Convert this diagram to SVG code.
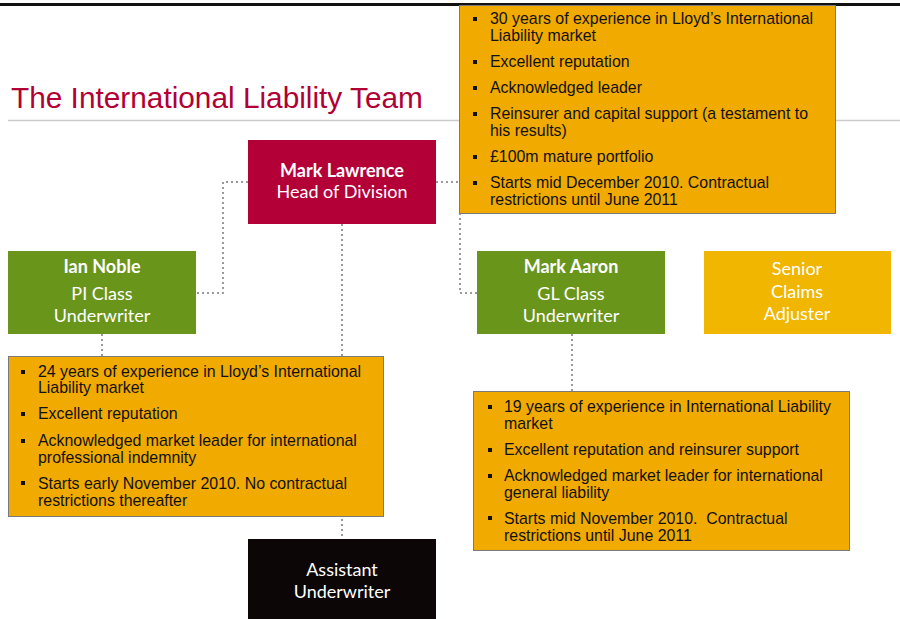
<svg xmlns="http://www.w3.org/2000/svg" width="900" height="619" viewBox="0 0 900 619">
  <style>
    .title { font-family: "Liberation Sans", Arial, sans-serif; font-size: 29.8px; fill: #B10034; }
    .node-text { font-family: Lato, "Open Sans", sans-serif; font-size: 18px; fill: #ffffff; text-anchor: middle; }
    .node-name { font-weight: bold; }
    .bullet-text { font-family: "Liberation Sans", Arial, sans-serif; font-size: 15.9px; fill: #111111; white-space: pre; }
    .note { fill: #F0AA00; stroke: #7a7a7a; stroke-width: 1; }
    .dot { fill: #111111; }
    .link { fill: none; stroke: #9a9a9a; stroke-width: 2; stroke-dasharray: 2 3; }
  </style>

  <rect width="900" height="619" fill="#ffffff"/>

  <!-- header rule and title -->
  <rect x="0" y="3" width="900" height="3" fill="#111111"/>
  <line x1="8" y1="120.5" x2="900" y2="120.5" stroke="#cccccc" stroke-width="1.5"/>
  <text class="title" x="11" y="108">The International Liability Team</text>

  <!-- reporting lines -->
  <g id="connectors">
    <polyline class="link" points="248,182 223,182 223,293 196,293"/>
    <polyline class="link" points="436,182 460,182 460,293 477,293"/>
    <line class="link" x1="342" y1="224" x2="342" y2="539"/>
    <line class="link" x1="102" y1="334" x2="102" y2="356"/>
    <line class="link" x1="572" y1="334" x2="572" y2="391"/>
  </g>

  <g id="mark-lawrence">
    <rect x="248" y="140" width="188" height="84" fill="#B30037"/>
    <text class="node-text node-name" x="342" y="177">Mark Lawrence</text>
    <text class="node-text" x="342" y="198">Head of Division</text>
  </g>

  <g id="ian-noble">
    <rect x="8" y="251" width="188" height="83" fill="#6A951B"/>
    <text class="node-text node-name" x="102" y="273">Ian Noble</text>
    <text class="node-text" x="102" y="300">PI Class</text>
    <text class="node-text" x="102" y="322">Underwriter</text>
  </g>

  <g id="mark-aaron">
    <rect x="477" y="251" width="188" height="83" fill="#6A951B"/>
    <text class="node-text node-name" x="571" y="273">Mark Aaron</text>
    <text class="node-text" x="571" y="300">GL Class</text>
    <text class="node-text" x="571" y="322">Underwriter</text>
  </g>

  <g id="senior-claims-adjuster">
    <rect x="704" y="251" width="187" height="83" fill="#F0B600"/>
    <text class="node-text" x="797" y="275" fill="#fdf6e0">Senior</text>
    <text class="node-text" x="797" y="298">Claims</text>
    <text class="node-text" x="797" y="320">Adjuster</text>
  </g>

  <g id="assistant-underwriter">
    <rect x="248" y="539" width="188" height="80" fill="#0C0607"/>
    <text class="node-text" x="342" y="576">Assistant</text>
    <text class="node-text" x="342" y="598">Underwriter</text>
  </g>

  <!-- profile: Mark Lawrence -->
  <g id="notes-mark-lawrence">
    <rect class="note" x="459.5" y="5.5" width="376" height="208"/>
    <rect class="dot" x="473" y="17" width="4" height="4"/>
    <rect class="dot" x="473" y="60" width="4" height="4"/>
    <rect class="dot" x="473" y="86" width="4" height="4"/>
    <rect class="dot" x="473" y="112" width="4" height="4"/>
    <rect class="dot" x="473" y="155" width="4" height="4"/>
    <rect class="dot" x="473" y="181" width="4" height="4"/>
    <text class="bullet-text" x="490" y="24">30 years of experience in Lloyd’s International</text>
    <text class="bullet-text" x="490" y="41">Liability market</text>
    <text class="bullet-text" x="490" y="67">Excellent reputation</text>
    <text class="bullet-text" x="490" y="93">Acknowledged leader</text>
    <text class="bullet-text" x="490" y="119">Reinsurer and capital support (a testament to</text>
    <text class="bullet-text" x="490" y="136">his results)</text>
    <text class="bullet-text" x="490" y="162">£100m mature portfolio</text>
    <text class="bullet-text" x="490" y="188">Starts mid December 2010. Contractual</text>
    <text class="bullet-text" x="490" y="205">restrictions until June 2011</text>
  </g>

  <!-- profile: Ian Noble -->
  <g id="notes-ian-noble">
    <rect class="note" x="8.5" y="356.5" width="375" height="160"/>
    <rect class="dot" x="21" y="370" width="4" height="4"/>
    <rect class="dot" x="21" y="412" width="4" height="4"/>
    <rect class="dot" x="21" y="439" width="4" height="4"/>
    <rect class="dot" x="21" y="481" width="4" height="4"/>
    <text class="bullet-text" x="38" y="377">24 years of experience in Lloyd’s International</text>
    <text class="bullet-text" x="38" y="393">Liability market</text>
    <text class="bullet-text" x="38" y="419">Excellent reputation</text>
    <text class="bullet-text" x="38" y="446">Acknowledged market leader for international</text>
    <text class="bullet-text" x="38" y="463">professional indemnity</text>
    <text class="bullet-text" x="38" y="489">Starts early November 2010. No contractual</text>
    <text class="bullet-text" x="38" y="506">restrictions thereafter</text>
  </g>

  <!-- profile: Mark Aaron -->
  <g id="notes-mark-aaron">
    <rect class="note" x="473.5" y="391.5" width="376" height="159"/>
    <rect class="dot" x="488" y="405" width="4" height="4"/>
    <rect class="dot" x="488" y="448" width="4" height="4"/>
    <rect class="dot" x="488" y="474" width="4" height="4"/>
    <rect class="dot" x="488" y="516" width="4" height="4"/>
    <text class="bullet-text" x="504" y="412">19 years of experience in International Liability</text>
    <text class="bullet-text" x="504" y="429">market</text>
    <text class="bullet-text" x="504" y="455">Excellent reputation and reinsurer support</text>
    <text class="bullet-text" x="504" y="481">Acknowledged market leader for international</text>
    <text class="bullet-text" x="504" y="498">general liability</text>
    <text class="bullet-text" x="504" y="524">Starts mid November 2010.  Contractual</text>
    <text class="bullet-text" x="504" y="541">restrictions until June 2011</text>
  </g>
</svg>
